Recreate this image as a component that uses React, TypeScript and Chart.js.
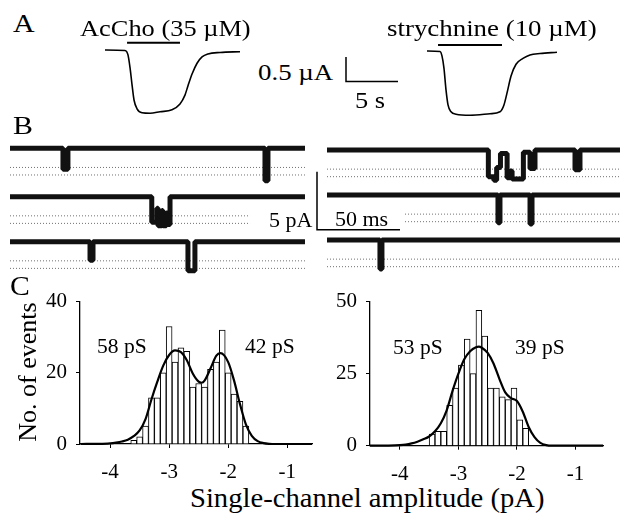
import React, { useEffect, useRef } from 'react';
import { Chart, registerables } from 'chart.js';

Chart.register(...registerables);

const SERIF = '"Liberation Serif", "Times New Roman", Times, serif';

// ---------------- Panel A: whole-cell currents (time in s, current in µA)
const accTime = [0, 1.92, 2.21, 2.4, 2.6, 2.79, 3.08, 3.56, 4.33, 5.29, 6.44, 7.21, 7.69, 7.98, 8.37, 8.85, 9.33, 9.9, 11.06, 12.98];
const accCurrent = [0, -0.01, -0.1, -0.35, -0.71, -1.02, -1.2, -1.28, -1.29, -1.26, -1.22, -1.1, -0.92, -0.73, -0.49, -0.27, -0.14, -0.08, -0.05, -0.035];
const strTime = [0, 1.25, 1.44, 1.63, 1.83, 2.02, 2.31, 2.79, 4.13, 6.06, 7.02, 7.4, 7.69, 8.08, 8.56, 9.23, 9.9, 10.87, 12.5];
const strCurrent = [0, -0.01, -0.1, -0.35, -0.8, -1.1, -1.24, -1.29, -1.31, -1.28, -1.24, -1.1, -0.86, -0.51, -0.27, -0.15, -0.08, -0.05, -0.026];
const accApplication = [2.12, 7.21]; // s
const strApplication = [1.06, 7.21]; // s
const scaleBarA = [5, 0.5]; // 5 s, 0.5 µA

// ---------------- Panel B: single-channel records, [time ms, level pA] step changes
const traceL1 = [[0, 0], [31.9, -1.8], [34.9, 0], [153.6, -2.8], [155.4, 0]];
const traceL2 = [[0, 0], [85.4, -2.2], [88.5, -1.0], [89.2, -2.5], [91.5, -1.2], [92.1, -2.5], [94.2, -1.4], [94.8, -2.4], [96.4, 0]];
const traceL3 = [[0, 0], [48.2, -1.6], [50.0, 0], [107.2, -2.5], [111.4, 0]];
const traceR1 = [[0, 0], [97.2, -2.3], [100.5, -2.6], [102.2, -1.5], [104.5, -0.3], [108.5, -2.4], [110.5, -1.8], [111.5, -2.5], [118.3, -0.2], [122.3, -1.6], [125.3, 0], [149.4, -1.7], [152.4, 0]];
const traceR2 = [[0, 0], [103.0, -2.4], [104.2, 0], [122.3, -2.5], [123.5, 0]];
const traceR3 = [[0, 0], [31.9, -2.5], [33.1, 0]];
const traceDurationL = 177.7; // ms
const traceDurationR = 176.5; // ms
const openLevels = [-1.65, -2.3]; // pA (dotted reference lines)
const dottedStartR2 = 47; // ms
const dottedEndL2 = 144.6; // ms
const scaleBarB = [50, 5]; // 50 ms, 5 pA

// ---------------- Panel C: amplitude histograms (pA, counts)
const binsL = [-3.6, -3.5, -3.4, -3.3, -3.2, -3.1, -3.0, -2.9, -2.8, -2.7, -2.6, -2.5, -2.4, -2.3, -2.2, -2.1, -2.0, -1.9, -1.8, -1.7];
const countsL = [1, 2, 5, 13, 13, 20, 33, 23, 27, 26, 16, 17, 16, 21, 23, 32, 20, 14, 12, 5];
const fitXL = [-4.5, -4.2, -4.0, -3.9, -3.8, -3.7, -3.6, -3.5, -3.4, -3.3, -3.2, -3.1, -3.0, -2.9, -2.8, -2.7, -2.6, -2.5, -2.45, -2.4, -2.3, -2.2, -2.13, -2.0, -1.9, -1.8, -1.7, -1.6, -1.5, -1.4, -1.3, -1.2, -0.58];
const fitYL = [0, 0.05, 0.2, 0.4, 0.7, 1.2, 2.2, 3.8, 7, 12.5, 17.5, 22, 25, 26.3, 25.8, 23.5, 19.8, 17.5, 17.2, 17.8, 21.2, 24.8, 25.5, 23, 17.8, 11.2, 5.5, 2.3, 0.8, 0.25, 0.05, 0, 0];
const binsR = [-3.45, -3.35, -3.25, -3.15, -3.05, -2.95, -2.85, -2.75, -2.65, -2.55, -2.45, -2.35, -2.25, -2.15, -2.05, -1.95, -1.85];
const countsR = [4, 5, 5, 14, 20, 28, 37, 25, 47, 38, 20, 20, 17, 16, 20, 9, 6];
const fitXR = [-4.51, -4.2, -4.0, -3.9, -3.8, -3.7, -3.6, -3.5, -3.4, -3.3, -3.2, -3.1, -3.0, -2.9, -2.8, -2.7, -2.65, -2.6, -2.5, -2.4, -2.3, -2.2, -2.1, -2.0, -1.9, -1.8, -1.7, -1.6, -1.5, -1.4, -0.53];
const fitYR = [0, 0.05, 0.2, 0.4, 0.8, 1.4, 2.2, 3.2, 5, 7.8, 12.3, 19, 25, 30, 32.8, 34.2, 34.4, 34, 32.2, 28.5, 23.2, 18.5, 16.5, 15.5, 11.8, 6.5, 3, 1, 0.2, 0, 0];
const xTicks = [-4, -3, -2, -1];
const yTicksL = [0, 20, 40];
const yTicksR = [0, 25, 50];

// ---------------- layout (pixels)
const KA_T = 10.4; // px per s
const KA_I = 49; // px per µA
const KB_T = 1.66; // px per ms
const KB_I = 11.6; // px per pA

type Box = { left: number; top: number; w: number; h: number };

function hiddenAxis(originPx: number, startPx: number, lengthPx: number, k: number, vertical: boolean) {
  if (vertical) {
    return { type: 'linear', display: false, max: (originPx - startPx) / k, min: (originPx - startPx - lengthPx) / k };
  }
  return { type: 'linear', display: false, min: (startPx - originPx) / k, max: (startPx + lengthPx - originPx) / k };
}

const baseOpts = (scales: any) => ({
  responsive: false,
  animation: false,
  devicePixelRatio: 1,
  events: [],
  layout: { padding: 0 },
  plugins: { legend: { display: false }, tooltip: { enabled: false } },
  scales,
});

const lineDs = (data: any[], extra: any = {}) => ({
  type: 'line',
  data,
  borderColor: '#000',
  borderWidth: 1.6,
  pointRadius: 0,
  fill: false,
  clip: false,
  tension: 0,
  ...extra,
});

function pairs(xs: number[], ys: number[]) {
  return xs.map((x, i) => ({ x, y: ys[i] }));
}

function stepPoints(changes: number[][], end: number) {
  const pts: { x: number; y: number }[] = [];
  let prev = changes[0][1];
  pts.push({ x: changes[0][0], y: prev });
  for (let i = 1; i < changes.length; i++) {
    const [t, l] = changes[i];
    pts.push({ x: t, y: prev }, { x: t, y: l });
    prev = l;
  }
  pts.push({ x: end, y: prev });
  return pts;
}

// ----- panel A configs
const boxAL: Box = { left: 100, top: 38, w: 150, h: 90 };
const boxAR: Box = { left: 340, top: 38, w: 240, h: 90 };
const originAL = { x: 105, y: 50 };
const originAR = { x: 427, y: 51 };
const appBarYL = 42.7;
const appBarYR = 45;
const scaleBarAPos = { x: 346, y: 57 };

function configAL() {
  const yApp = (originAL.y - appBarYL) / KA_I;
  return {
    type: 'line',
    data: {
      datasets: [
        lineDs(pairs(accTime, accCurrent), { cubicInterpolationMode: 'monotone' }),
        lineDs([{ x: accApplication[0], y: yApp }, { x: accApplication[1], y: yApp }], { borderWidth: 2 }),
      ],
    },
    options: baseOpts({
      x: hiddenAxis(originAL.x, boxAL.left, boxAL.w, KA_T, false),
      y: hiddenAxis(originAL.y, boxAL.top, boxAL.h, KA_I, true),
    }),
  };
}

function configAR() {
  const yApp = (originAR.y - appBarYR) / KA_I;
  const sx = (scaleBarAPos.x - originAR.x) / KA_T;
  const sy = (originAR.y - scaleBarAPos.y) / KA_I;
  return {
    type: 'line',
    data: {
      datasets: [
        lineDs(pairs(strTime, strCurrent), { cubicInterpolationMode: 'monotone' }),
        lineDs([{ x: strApplication[0], y: yApp }, { x: strApplication[1], y: yApp }], { borderWidth: 2 }),
        lineDs([
          { x: sx, y: sy },
          { x: sx, y: sy - scaleBarA[1] },
          { x: sx + scaleBarA[0], y: sy - scaleBarA[1] },
        ], { borderWidth: 1.5 }),
      ],
    },
    options: baseOpts({
      x: hiddenAxis(originAR.x, boxAR.left, boxAR.w, KA_T, false),
      y: hiddenAxis(originAR.y, boxAR.top, boxAR.h, KA_I, true),
    }),
  };
}

// ----- panel B configs
const boxBL: Box = { left: 8, top: 135, w: 302, h: 145 };
const boxBR: Box = { left: 312, top: 135, w: 308, h: 145 };
const originBLx = 10;
const originBRx = 327;
const rowBaseL = [148.3, 196.7, 241.7];
const rowBaseR = [150, 195, 240];
const scaleBarBPos = { x: 317, y: 171.7 };

function configB(box: Box, originX: number, bases: number[], traces: number[][][], end: number, right: boolean) {
  const datasets: any[] = [];
  const scales: any = { x: hiddenAxis(originX, box.left, box.w, KB_T, false) };
  bases.forEach((b, r) => {
    const id = 'y' + r;
    scales[id] = hiddenAxis(b, box.top, box.h, KB_I, true);
    let ds = 0;
    let de = end;
    if (r === 1 && right) ds = dottedStartR2;
    if (r === 1 && !right) de = dottedEndL2;
    openLevels.forEach((lv) => {
      datasets.push(lineDs([{ x: ds, y: lv }, { x: de, y: lv }], {
        yAxisID: id, borderColor: '#707070', borderWidth: 1, borderDash: [1, 2], order: 3,
      }));
    });
    datasets.push(lineDs(stepPoints(traces[r], end), {
      yAxisID: id, borderColor: '#111', borderWidth: 5, borderJoinStyle: 'bevel', order: 1,
    }));
  });
  if (right) {
    const sx = (scaleBarBPos.x - originX) / KB_T;
    const sy = (bases[1] - scaleBarBPos.y) / KB_I;
    datasets.push(lineDs([
      { x: sx, y: sy },
      { x: sx, y: sy - scaleBarB[1] },
      { x: sx + scaleBarB[0], y: sy - scaleBarB[1] },
    ], { yAxisID: 'y1', borderWidth: 1.5, order: 0 }));
  }
  return { type: 'line', data: { datasets }, options: baseOpts(scales) };
}

// ----- panel C configs
const boxCL: Box = { left: 0, top: 280, w: 320, h: 200 };
const boxCR: Box = { left: 300, top: 280, w: 320, h: 200 };

function histConfig(bins: number[], counts: number[], fx: number[], fy: number[], xr: number[], yTicks: number[], lay: any) {
  const tickFont = { family: SERIF, size: 21 };
  const grid = { display: true, drawOnChartArea: false, drawTicks: true, tickLength: 4, color: '#000', lineWidth: 1, offset: false };
  const border = { display: true, color: '#000', width: 1.3 };
  return {
    type: 'bar',
    data: {
      datasets: [
        { type: 'line', data: pairs(fx, fy), borderColor: '#000', borderWidth: 2.2, pointRadius: 0, cubicInterpolationMode: 'monotone', fill: false, order: 1, clip: false },
        { type: 'bar', data: pairs(bins, counts), backgroundColor: '#fff', borderColor: '#000', borderWidth: 1, barPercentage: 1, categoryPercentage: 1, order: 2 },
      ],
    },
    options: {
      responsive: false,
      animation: false,
      devicePixelRatio: 1,
      events: [],
      layout: { padding: { top: lay.padTop, right: lay.padRight, left: 0, bottom: 0 } },
      plugins: { legend: { display: false }, tooltip: { enabled: false } },
      scales: {
        x: {
          type: 'linear', min: xr[0], max: xr[1], offset: false,
          afterBuildTicks: (s: any) => { s.ticks = xTicks.map((v) => ({ value: v })); },
          afterFit: (s: any) => { s.height = lay.xHeight; },
          ticks: { font: tickFont, color: '#000', padding: 12, maxRotation: 0, autoSkip: false },
          grid, border,
        },
        y: {
          type: 'linear', min: 0, max: yTicks[yTicks.length - 1],
          afterBuildTicks: (s: any) => { s.ticks = yTicks.map((v) => ({ value: v })); },
          afterFit: (s: any) => { s.width = lay.yWidth; },
          ticks: { font: tickFont, color: '#000', padding: 9, autoSkip: false },
          grid, border,
        },
      },
    },
  };
}

function Plot({ box, make }: { box: Box; make: () => any }) {
  const ref = useRef<HTMLCanvasElement | null>(null);
  useEffect(() => {
    if (!ref.current) return;
    const c = new Chart(ref.current, make());
    return () => c.destroy();
  }, []);
  return (
    <canvas
      ref={ref}
      width={box.w}
      height={box.h}
      style={{ position: 'absolute', left: box.left, top: box.top, width: box.w, height: box.h }}
    />
  );
}

function Label({ x, y, size, sx = 1, children }: any) {
  return (
    <div
      style={{
        position: 'absolute', left: x, top: y, fontFamily: SERIF, fontSize: size, lineHeight: 1,
        whiteSpace: 'nowrap', color: '#000', transform: `translateY(-50%) scaleX(${sx})`, transformOrigin: 'left center',
      }}
    >
      {children}
    </div>
  );
}

export default function App() {
  return (
    <div style={{ position: 'absolute', left: 0, top: 0, width: 620, height: 517, background: '#fff', overflow: 'hidden' }}>
      <Plot box={boxAL} make={configAL} />
      <Plot box={boxAR} make={configAR} />
      <Plot box={boxBL} make={() => configB(boxBL, originBLx, rowBaseL, [traceL1, traceL2, traceL3], traceDurationL, false)} />
      <Plot box={boxBR} make={() => configB(boxBR, originBRx, rowBaseR, [traceR1, traceR2, traceR3], traceDurationR, true)} />
      <Plot box={boxCL} make={() => histConfig(binsL, countsL, fitXL, fitYL, [-4.51, -0.58], yTicksL, { padTop: 13, padRight: 8, xHeight: 36, yWidth: 80 })} />
      <Plot box={boxCR} make={() => histConfig(binsR, countsR, fitXR, fitYR, [-4.51, -0.53], yTicksR, { padTop: 14, padRight: 17, xHeight: 34.3, yWidth: 70 })} />

      <Label x={13} y={23.5} size={26} sx={1.15}>A</Label>
      <Label x={80} y={27.5} size={24} sx={1.1}>AcCho (35 µM)</Label>
      <Label x={387} y={28} size={24} sx={1.12}>strychnine (10 µM)</Label>
      <Label x={258} y={72} size={24} sx={1.12}>0.5 µA</Label>
      <Label x={355} y={100} size={24} sx={1.1}>5 s</Label>
      <Label x={13} y={125.5} size={26} sx={1.15}>B</Label>
      <Label x={269} y={219.5} size={22}>5 pA</Label>
      <Label x={335} y={219} size={22}>50 ms</Label>
      <Label x={10} y={286} size={27} sx={1.1}>C</Label>
      <Label x={97} y={347} size={21.5}>58 pS</Label>
      <Label x={245} y={347} size={21.5}>42 pS</Label>
      <Label x={393} y={348.3} size={21.5}>53 pS</Label>
      <Label x={515} y={348.3} size={21.5}>39 pS</Label>
      <Label x={190} y={498} size={27} sx={1.06}>Single-channel amplitude (pA)</Label>
      <div
        style={{
          position: 'absolute', left: 28, top: 371.5, fontFamily: SERIF, fontSize: 26, lineHeight: 1,
          whiteSpace: 'nowrap', color: '#000', transform: 'translate(-50%, -50%) rotate(-90deg)',
        }}
      >
        No. of events
      </div>
    </div>
  );
}
